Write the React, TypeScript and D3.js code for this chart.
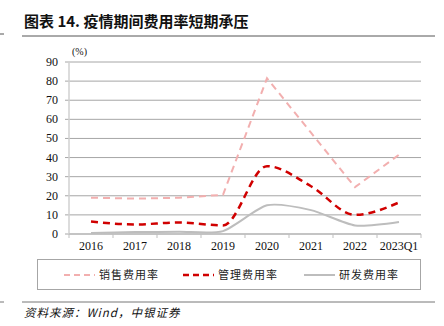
import React from "react";
import * as d3 from "d3";

const categories = ["2016", "2017", "2018", "2019", "2020", "2021", "2022", "2023Q1"];
const salesRate = [19, 18.5, 19, 20.5, 81.5, 53, 24.5, 41.5];
const mgmtRate = [6.5, 5, 6, 4.5, 35.5, 25, 10, 16.5];
const rdRate = [0.5, 1, 1.2, 1.5, 15, 12.5, 4.5, 6.3];
const yTicks = [0, 10, 20, 30, 40, 50, 60, 70, 80, 90];

const W = 444;
const H = 326;
const plot = { left: 69, right: 421, top: 62, bottom: 234 };

export default function App() {
  const x = d3.scaleBand<string>().domain(categories).range([plot.left, plot.right]);
  const y = d3.scaleLinear().domain([0, 90]).range([plot.bottom, plot.top]);
  const cx = (c: string) => (x(c) ?? 0) + x.bandwidth() / 2;

  const linear = d3
    .line<number>()
    .x((_, i) => cx(categories[i]))
    .y((d) => y(d));
  const smooth = d3
    .line<number>()
    .x((_, i) => cx(categories[i]))
    .y((d) => y(d))
    .curve(d3.curveMonotoneX);
  const smoothCR = d3
    .line<number>()
    .x((_, i) => cx(categories[i]))
    .y((d) => y(d))
    .curve(d3.curveCardinal.tension(0.3));

  const serif = "'Liberation Serif', 'Times New Roman', serif";
  const cjk = "'Noto Sans CJK SC', sans-serif";

  const legendItems = [
    { label: "销售费用率", color: "#F2AFAF", dash: "6,4", width: 2, x: 64 },
    { label: "管理费用率", color: "#D00000", dash: "6,4", width: 2.5, x: 183 },
    { label: "研发费用率", color: "#BDBDBD", dash: "", width: 2, x: 304 },
  ];

  return (
    <svg width={W} height={H} style={{ position: "absolute", left: 0, top: 0 }}>
      <rect width={W} height={H} fill="#fff" />
      {/* title */}
      <text x={24} y={27} fontFamily={cjk} fontWeight={700} fontSize={15} fill="#111">
        图表 14. 疫情期间费用率短期承压
      </text>
      <line x1={22} x2={435} y1={36} y2={36} stroke="#555" strokeWidth={1} />
      <line x1={0} x2={4} y1={34} y2={34} stroke="#555" strokeWidth={1} />

      {/* grid */}
      {yTicks.map((t) => (
        <g key={t}>
          <line x1={plot.left - 4} x2={plot.right} y1={y(t)} y2={y(t)} stroke="#A6A6A6" strokeWidth={1} />
          <text x={58} y={y(t) + 4} textAnchor="end" fontFamily={serif} fontSize={12} fill="#111">
            {t}
          </text>
        </g>
      ))}
      <line x1={plot.left} x2={plot.left} y1={plot.top} y2={plot.bottom} stroke="#D0D0D0" strokeWidth={1.5} />
      <line x1={plot.left} x2={plot.right} y1={plot.bottom} y2={plot.bottom} stroke="#BFBFBF" strokeWidth={1.5} />
      {categories.map((c, i) => (
        <line
          key={"tk" + i}
          x1={(x(c) ?? 0)}
          x2={(x(c) ?? 0)}
          y1={plot.bottom}
          y2={plot.bottom + 4}
          stroke="#BFBFBF"
        />
      ))}
      <line x1={plot.right} x2={plot.right} y1={plot.bottom} y2={plot.bottom + 4} stroke="#BFBFBF" />
      {categories.map((c) => (
        <text key={c} x={cx(c)} y={plot.bottom + 16} textAnchor="middle" fontFamily={serif} fontSize={12} fill="#111">
          {c}
        </text>
      ))}
      <text x={72} y={55} fontFamily={serif} fontSize={10} fill="#111">
        (%)
      </text>

      {/* series */}
      <path d={smoothCR(rdRate) ?? ""} fill="none" stroke="#BDBDBD" strokeWidth={2} />
      <path d={smooth(mgmtRate) ?? ""} fill="none" stroke="#D00000" strokeWidth={2.5} strokeDasharray="7,5" />
      <path d={linear(salesRate) ?? ""} fill="none" stroke="#F2AFAF" strokeWidth={2} strokeDasharray="7,5" />

      {/* legend */}
      <rect x={37.5} y={259.5} width={383} height={30} fill="#fff" stroke="#A6A6A6" />
      {legendItems.map((it) => (
        <g key={it.label}>
          <line
            x1={it.x}
            x2={it.x + 31}
            y1={275}
            y2={275}
            stroke={it.color}
            strokeWidth={it.width}
            strokeDasharray={it.dash || undefined}
          />
          <text x={it.x + 35} y={279} fontFamily={cjk} fontSize={11} letterSpacing={1} fill="#222">
            {it.label}
          </text>
        </g>
      ))}

      {/* footer */}
      <line x1={22} x2={435} y1={302} y2={302} stroke="#777" strokeWidth={1} />
      <line x1={0} x2={4} y1={302} y2={302} stroke="#777" strokeWidth={1} />
      <text x={24} y={317} fontFamily={cjk} fontStyle="italic" fontSize={11.5} letterSpacing={1} fill="#111">
        资料来源：Wind，中银证券
      </text>
    </svg>
  );
}
